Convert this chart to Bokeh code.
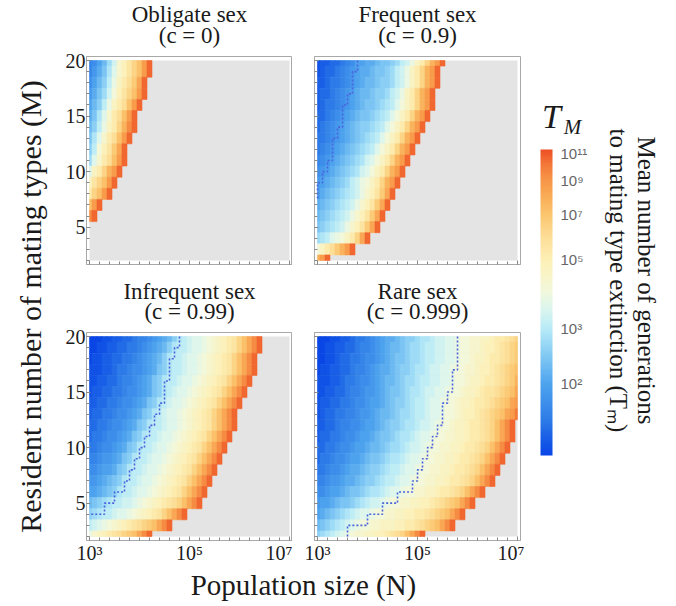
import math
from bokeh.plotting import figure
from bokeh.models import LinearColorMapper, ColorBar, FixedTicker, Label, Range1d, ColumnDataSource
from bokeh.layouts import row, column
from bokeh.embed import file_html
from bokeh.resources import INLINE

# ------------------------------------------------------------------ data
LOG10_N = [round(3.0 + 0.1 * i, 1) for i in range(41)]      # grid columns, N = 10^3 ... 10^7
M_ROWS = list(range(20, 1, -1))                              # grid rows, M = 20 ... 2
# each character = T_M read against the colour bar (0 = bottom of bar, z = top of bar)
LEVELS = "0123456789abcdefghijklmnopqrstuvwxyz"
CB_BOTTOM = 0.069   # log10(log10 T) at the bottom of the colour bar
CB_TOP = 1.053      # log10(log10 T) at the top of the colour bar

OBLIGATE = [
    "568adgkmoqsvy", "579behkmoqsvy", "68acfilnpruy", "79bdgjmoqsvy", "8acfilnpsvy",
    "9behknpsvy", "acfilnqtwy", "behknpsvy", "cfjmoruy", "dhknpsvy", "hlnqtvy",
    "loqsvy", "nqsvy", "svy", "wy", "", "", "", "",
]
FREQUENT = [
    "122334568899abbcdfgilnqtvy", "12334567899abbcdfgilnqtvy", "2234456789aabccdfgilnqtvy",
    "233456789aabccdfgilnqtvy", "234456789abbcdefhjlnqtvy", "33456789abbcdefhjlnqtvy",
    "3456789abccdefhjlnqtvy", "4456789abcdefhjlnqtvy", "456789abcdefhjlnqtvy",
    "56789abcdeghjlnqtvy", "6789abcdeghjlnqtvy", "789abcdfgijlnqtvy", "79abcdefgikmoruy",
    "9abcdefgikmoruy", "abcdefgikmoruy", "bcdefgikmoruy", "defhijlnquy", "jlnprtvy", "tvy",
]
INFREQUENT = [
    "0001122334556789acefghhijklmnoqsuwy", "001122334456789aceffghhijklmnoqsuwy",
    "01122334456789aceffghhijklmnoqsuwy", "11122344566789bceffghhijklmnoqsuwy",
    "1122334556789bceffghhijklmnoqsuwy", "1223344566789bcefghhijklmnoqsuwy",
    "223344566789bcefghhijklmnoqsuwy", "23344566789bcefghhijklmnoqsuwy",
    "3344566789bceffghhijklmnoqsuwy", "344566789bceffghhijklmnoqsuwy",
    "44566789bceffghhijklmnoqsuwy", "5567789bceffghhijklmnoqsuwy",
    "667889bceffghhijklmnoqsuwy", "7789abceffghhijklmnoqsuwy", "889abceffghhijklmnoqsuwy",
    "abcdeffgghijklmnopqsuwy", "cdeffghhijklmnoqsuwy", "fghijklmnopqrsuwy", "iklmnopqrsuwy",
]
RARE = [
    "0001122344567899abccdeefgghhijjkkllmnnopq", "001122334556789aabcddeffgghhijjkklmmnopqr",
    "001123344566789abbcddeffgghhijjkllmnnopqr", "011223345567899abccdeefgghhijjkklmmnopqrs",
    "11122344566789aabcddeffgghhijjkllmnnopqrt", "11223345567789abbcdeefgghhijjkllmnoopqrsu",
    "12233445667889abccdeffghhijjkllmnnopqrsuv", "1233445567789aabcddeffghhijjklmmnopqrsuvx",
    "2233455667889abccdeefgghijjkllmnnopqsuwy", "233445667889abbcdeefghhijjkkllmnnopqsuwy",
    "33445667889aabcddefgghijjkkllmnnopqsuwy", "3445667889abbcdeefghhijjkkllmnnopqsuwy",
    "445667899abccdeffghhijjkkllmnnopqsuwy", "55677899abccdeffghhijjkkllmnnopqsuwy",
    "667889abbcdeefghhijjkkllmnnopqsuwy", "7889abbcdefgghijjkkllmmnopqrsuwy",
    "89abcdefghhijjkkllmmnnopqrsuwy", "abcdefghijjkklllmmnnopqrsuwy", "cdefghijkkllmmnopqsuwy",
]
# dotted contour: log10 N of the contour in each unit band of M, from [19,20] downwards
FREQUENT_CONTOUR = [3.8, 3.7, 3.7, 3.6, 3.5, 3.5, 3.4, 3.3, 3.3, 3.2, 3.1, 3.0]
FREQUENT_TAIL = ([3.0], [7.6])
INFREQUENT_CONTOUR = [4.8, 4.7, 4.6, 4.6, 4.5, 4.5, 4.4, 4.3, 4.2, 4.1, 4.0, 3.9, 3.8, 3.7, 3.5, 3.3]
INFREQUENT_TAIL = ([3.0], [4.0])
RARE_CONTOUR = [5.8, 5.8, 5.8, 5.7, 5.7, 5.6, 5.5, 5.5, 5.4, 5.3, 5.2, 5.1, 5.0, 4.9, 4.6, 4.3, 4.0, 3.6]
RARE_TAIL = ([], [])

PANEL_NAMES = ["Obligate sex", "Frequent sex", "Infrequent sex", "Rare sex"]
PANEL_C = ["0", "0.9", "0.99", "0.999"]
PANEL_ROWS = [OBLIGATE, FREQUENT, INFREQUENT, RARE]
PANEL_CONTOURS = [None, (FREQUENT_CONTOUR, FREQUENT_TAIL), (INFREQUENT_CONTOUR, INFREQUENT_TAIL),
                  (RARE_CONTOUR, RARE_TAIL)]
X_TICK_EXP = [3, 5, 7]
Y_TICKS = [5, 10, 15, 20]
CB_TICK_EXP = [2, 3, 5, 7, 9, 11]
SUP = {"2": "\u00b2", "3": "\u00b3", "5": "\u2075", "7": "\u2077", "9": "\u2079", "1": "\u00b9"}

# ------------------------------------------------------------------ style
SERIF = "Liberation Serif"
INK = "#1a1a1a"
ANCHORS = [(0.000, "#0a46e6"), (0.060, "#1a60e6"), (0.120, "#2f7ee8"), (0.235, "#4fa4ee"),
           (0.330, "#84cbf4"), (0.415, "#b8ebf8"), (0.480, "#dcf6ee"), (0.540, "#f3f8da"),
           (0.640, "#fdf0b6"), (0.720, "#fcdc94"), (0.790, "#fbc56e"), (0.850, "#f9ab56"),
           (0.900, "#f79648"), (0.950, "#f47a3a"), (1.000, "#ee5024")]


def hex_rgb(h):
    return tuple(int(h[i:i + 2], 16) for i in (1, 3, 5))


def build_palette(n=256):
    out = []
    for i in range(n):
        f = i / (n - 1)
        for (f0, c0), (f1, c1) in zip(ANCHORS[:-1], ANCHORS[1:]):
            if f0 <= f <= f1:
                t = (f - f0) / (f1 - f0) if f1 > f0 else 0
                a, b = hex_rgb(c0), hex_rgb(c1)
                out.append("#%02x%02x%02x" % tuple(round(a[k] + t * (b[k] - a[k])) for k in range(3)))
                break
    return out


mapper = LinearColorMapper(palette=build_palette(), low=CB_BOTTOM, high=CB_TOP)


def sup(n):
    return "10" + "".join(SUP[d] for d in str(n))


def cell_source(rows):
    d = dict(left=[], right=[], bottom=[], top=[], T=[], v=[])
    half = (LOG10_N[1] - LOG10_N[0]) / 2
    for M, codes in zip(M_ROWS, rows):
        for j, ch in enumerate(codes):
            x = LOG10_N[j]
            k = LEVELS.index(ch)
            loglog = CB_BOTTOM + k / (len(LEVELS) - 1) * (CB_TOP - CB_BOTTOM)
            T = 10 ** (10 ** loglog)
            d["left"].append(max(LOG10_N[0], x - half))
            d["right"].append(min(LOG10_N[-1], x + half))
            d["bottom"].append(max(M_ROWS[-1], M - 0.5))
            d["top"].append(min(M_ROWS[0], M + 0.5))
            d["T"].append(T)
            d["v"].append(math.log10(math.log10(T)))
    return ColumnDataSource(d)


def staircase(xs, tail):
    px, py = [], []
    for i, x in enumerate(xs):
        px += [x, x]
        py += [M_ROWS[0] - i, M_ROWS[0] - i - 1]
    return px + tail[0], py + tail[1]


def blank(w, h):
    f = figure(width=w, height=h, x_range=Range1d(0, w), y_range=Range1d(0, h),
               toolbar_location=None, output_backend="svg", x_axis_type=None, y_axis_type=None,
               min_border=0, title=None)
    f.outline_line_color = None
    f.background_fill_color = "white"
    f.border_fill_color = "white"
    return f


FRAME_W, FRAME_H = 206, 208
LEFT_COL_BORDER, RIGHT_COL_BORDER = 34, 22
PANEL_TOP = 8


def make_panel(i, left, right, bottom, ylabels, xlabels):
    p = figure(frame_width=FRAME_W, frame_height=FRAME_H,
               x_range=Range1d(LOG10_N[0] - 0.06, LOG10_N[-1] + 0.06),
               y_range=Range1d(M_ROWS[-1] - 0.36, M_ROWS[0] + 0.36),
               toolbar_location=None, output_backend="svg", title=None,
               min_border_left=left, min_border_right=right,
               min_border_top=PANEL_TOP, min_border_bottom=bottom)
    p.background_fill_color = "white"
    p.border_fill_color = "white"
    p.outline_line_color = "#a8a8a8"
    p.grid.visible = False
    p.quad(left=[LOG10_N[0]], right=[LOG10_N[-1]], bottom=[M_ROWS[-1]], top=[M_ROWS[0]],
           fill_color="#e4e4e4", line_color=None)
    src = cell_source(PANEL_ROWS[i])
    p.quad(left="left", right="right", bottom="bottom", top="top", source=src,
           fill_color={"field": "v", "transform": mapper},
           line_color={"field": "v", "transform": mapper}, line_width=0.6)
    if PANEL_CONTOURS[i] is not None:
        xs, ys = staircase(*PANEL_CONTOURS[i])
        p.line(xs, ys, line_color="#4a62dc", line_width=1.6, line_dash="2 2")
    minor_x = [round(3 + 0.2 * k, 1) for k in range(21)]
    p.xaxis.ticker = FixedTicker(ticks=X_TICK_EXP, minor_ticks=minor_x)
    p.yaxis.ticker = FixedTicker(ticks=Y_TICKS, minor_ticks=list(range(2, 21)))
    p.xaxis.major_label_overrides = {e: (sup(e) if xlabels else "") for e in X_TICK_EXP}
    if not ylabels:
        p.yaxis.major_label_overrides = {t: "" for t in Y_TICKS}
    for ax in (p.xaxis[0], p.yaxis[0]):
        ax.axis_line_color = "#a8a8a8"
        ax.major_tick_line_color = "#888888"
        ax.minor_tick_line_color = "#888888"
        ax.major_tick_in = 4
        ax.major_tick_out = 0
        ax.minor_tick_in = 3
        ax.minor_tick_out = 0
        ax.major_label_text_font = SERIF
        ax.major_label_text_font_size = "20px"
        ax.major_label_text_color = INK
        ax.major_label_standoff = 1
    return p


def title_strip(i, width, frame_left, height, y_main, y_sub):
    t = blank(width, height)
    for text, y in ((PANEL_NAMES[i], y_main), ("(c = %s)" % PANEL_C[i], y_sub)):
        t.add_layout(Label(x=frame_left + FRAME_W / 2, y=y, text=text, text_align="center",
                           text_baseline="middle", text_font=SERIF, text_font_size="23px",
                           text_color=INK))
    return t


W_LEFT = LEFT_COL_BORDER + FRAME_W          # 240
W_RIGHT = RIGHT_COL_BORDER + FRAME_W + 4    # 232

# top strip 0..48 (title centres at 14 and 35), bottom strip 272..324 (centres at 291 and 311)
t1 = title_strip(0, W_LEFT, LEFT_COL_BORDER, 48, 34, 13)
t2 = title_strip(1, W_RIGHT, RIGHT_COL_BORDER, 48, 34, 13)
p1 = make_panel(0, LEFT_COL_BORDER, 0, 8, True, False)
p2 = make_panel(1, RIGHT_COL_BORDER, 4, 8, False, False)
t3 = title_strip(2, W_LEFT, LEFT_COL_BORDER, 52, 33, 13)
t4 = title_strip(3, W_RIGHT, RIGHT_COL_BORDER, 52, 33, 13)
p3 = make_panel(2, LEFT_COL_BORDER, 0, 24, True, True)
p4 = make_panel(3, RIGHT_COL_BORDER, 4, 24, False, True)

TOTAL_H = 606
ylab = blank(52, TOTAL_H)
ylab.add_layout(Label(x=30, y=300, text="Resident number of mating types (M)", angle=math.pi / 2,
                      text_align="center", text_baseline="middle", text_font=SERIF,
                      text_font_size="30px", text_color=INK))

xlab = blank(W_LEFT + W_RIGHT, 42)
xlab.add_layout(Label(x=251, y=24, text="Population size (N)", text_align="center",
                      text_baseline="middle", text_font=SERIF, text_font_size="29px",
                      text_color=INK))

cbf = blank(152, TOTAL_H)
cb_ticks = [round(math.log10(e), 4) for e in CB_TICK_EXP]
cb = ColorBar(color_mapper=mapper, location=(16, 151), width=12, height=306, padding=0,
              ticker=FixedTicker(ticks=cb_ticks),
              major_label_overrides={t: sup(e) for t, e in zip(cb_ticks, CB_TICK_EXP)},
              major_tick_line_color=None, minor_tick_line_color=None, bar_line_color=None,
              border_line_color=None, background_fill_alpha=0, label_standoff=8,
              major_label_text_font="Liberation Sans", major_label_text_font_size="15px",
              major_label_text_color="#666666")
cbf.add_layout(cb, "center")
cbf.add_layout(Label(x=27, y=490, text="T", text_align="center", text_baseline="middle",
                     text_font=SERIF, text_font_style="italic", text_font_size="34px",
                     text_color=INK))
cbf.add_layout(Label(x=48, y=480, text="M", text_align="center", text_baseline="middle",
                     text_font=SERIF, text_font_style="italic", text_font_size="21px",
                     text_color=INK))
cbf.add_layout(Label(x=122, y=326, text="Mean number of generations", angle=-math.pi / 2,
                     text_align="center", text_baseline="middle", text_font=SERIF,
                     text_font_size="25px", text_color=INK))
cbf.add_layout(Label(x=94, y=326, text="to mating type extinction (T\u2098)", angle=-math.pi / 2,
                     text_align="center", text_baseline="middle", text_font=SERIF,
                     text_font_size="25px", text_color=INK))

middle = column(row(t1, t2), row(p1, p2), row(t3, t4), row(p3, p4), xlab)
layout = row(ylab, middle, cbf)
open("out.html", "w").write(file_html(layout, INLINE))
